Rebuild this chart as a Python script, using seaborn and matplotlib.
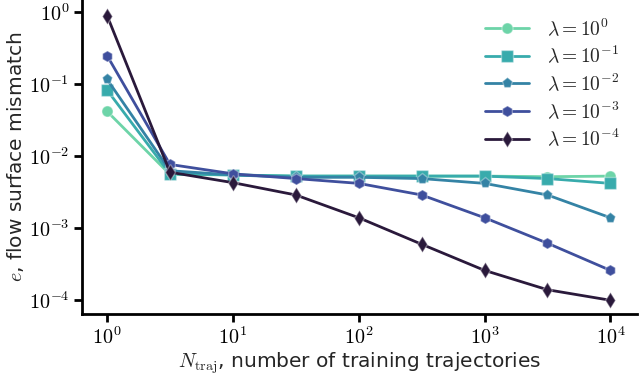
import matplotlib

matplotlib.use("Agg")

import matplotlib.pyplot as plt
import numpy as np
import pandas as pd
import seaborn as sns
from matplotlib.ticker import FuncFormatter


N_TRAJ = [1, 3.16, 10, 31.6, 100, 316, 1000, 3162, 10000]
LAMBDA_LABELS = [
    r"$\lambda = 10^{0}$",
    r"$\lambda = 10^{-1}$",
    r"$\lambda = 10^{-2}$",
    r"$\lambda = 10^{-3}$",
    r"$\lambda = 10^{-4}$",
]
ERR_LAM_0 = [0.042, 0.0056, 0.0055, 0.0053, 0.0053, 0.0053, 0.0053, 0.0052, 0.0053]
ERR_LAM_1 = [0.083, 0.0057, 0.0055, 0.0053, 0.0053, 0.0053, 0.0053, 0.0049, 0.0042]
ERR_LAM_2 = [0.117, 0.0063, 0.0055, 0.0051, 0.0051, 0.0049, 0.0042, 0.0029, 0.0014]
ERR_LAM_3 = [0.25, 0.0077, 0.0057, 0.0049, 0.0042, 0.0029, 0.0014, 0.00062, 0.00026]
ERR_LAM_4 = [0.9, 0.006, 0.0043, 0.0029, 0.0014, 0.0006, 0.00026, 0.00014, 0.0001]

COLORS = ["#6dd4a8", "#38abac", "#3483a5", "#3f4f9d", "#2a193b"]
MARKERS = ["o", "s", "p", "h", "d"]


def build_frame():
    rows = []
    series = [ERR_LAM_0, ERR_LAM_1, ERR_LAM_2, ERR_LAM_3, ERR_LAM_4]
    for label, values in zip(LAMBDA_LABELS, series):
        for n, e in zip(N_TRAJ, values):
            rows.append({"N": n, "e": e, "lam": label})
    return pd.DataFrame(rows)


def pow10_label(value, _pos):
    return r"$10^{%d}$" % int(round(np.log10(value)))


sns.set_theme(style="ticks")
plt.rcParams["font.family"] = ["DejaVu Sans"]
plt.rcParams["mathtext.fontset"] = "cm"

df = build_frame()

fig, ax = plt.subplots(figsize=(6.4, 3.81), dpi=100)
fig.subplots_adjust(left=0.128, right=0.995, bottom=0.176, top=1.0)

sns.lineplot(
    data=df,
    x="N",
    y="e",
    hue="lam",
    style="lam",
    markers=MARKERS,
    dashes=False,
    palette=COLORS,
    linewidth=2,
    markersize=8,
    markeredgewidth=1,
    ax=ax,
)

for line in ax.get_lines():
    line.set_markeredgecolor((1, 1, 1, 0.35))

ax.set_xscale("log")
ax.set_yscale("log")
ax.set_xlim(10 ** -0.2, 10 ** 4.21)
ax.set_ylim(10 ** -4.19, 10 ** 0.17)
ax.minorticks_off()
ax.set_xticks([1, 10, 100, 1000, 10000])
ax.set_yticks([1e-4, 1e-3, 1e-2, 1e-1, 1])
ax.xaxis.set_major_formatter(FuncFormatter(pow10_label))
ax.yaxis.set_major_formatter(FuncFormatter(pow10_label))

for side in ["left", "bottom"]:
    ax.spines[side].set_linewidth(2)
    ax.spines[side].set_color("black")
sns.despine(ax=ax)
ax.tick_params(axis="both", which="major", width=2, length=6, pad=3,
               labelsize=14.5, colors="black")

ax.set_xlabel(r"$N_\mathrm{traj}$, number of training trajectories",
              fontsize=14.5, labelpad=2)
ax.set_ylabel(r"$e$, flow surface mismatch", fontsize=14.5, labelpad=2)

handles, labels = ax.get_legend_handles_labels()
ax.legend(
    handles,
    labels,
    loc="upper right",
    bbox_to_anchor=(0.99, 0.982),
    frameon=False,
    fontsize=14,
    handlelength=2.3,
    handletextpad=0.9,
    labelspacing=0.3,
    borderaxespad=0.2,
)

plt.savefig("out.png", dpi=100)
plt.close()
